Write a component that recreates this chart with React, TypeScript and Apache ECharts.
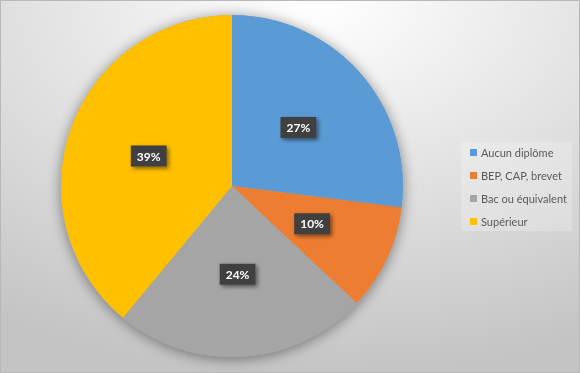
import React, { useEffect, useRef } from "react";
import * as echarts from "echarts";

const categories = ["Aucun diplôme", "BEP, CAP, brevet", "Bac ou équivalent", "Supérieur"];
const values = [27, 10, 24, 39];
const colors = ["#5B9BD5", "#ED7D31", "#A5A5A5", "#FFC000"];

export default function App() {
  const ref = useRef<HTMLDivElement>(null);
  useEffect(() => {
    const chart = echarts.init(ref.current!, undefined, { renderer: "svg" });
    const total = values.reduce((a, b) => a + b, 0);
    chart.setOption({
      animation: false,
      backgroundColor: {
        type: "radial",
        x: 0.55,
        y: 0.0,
        r: 1.0,
        colorStops: [
          { offset: 0, color: "#ffffff" },
          { offset: 0.6, color: "#dcdcdc" },
          { offset: 1, color: "#c4c4c4" },
        ],
      },
      graphic: [
        {
          type: "rect",
          shape: { x: 0.5, y: 0.5, width: 579, height: 372 },
          style: { fill: "none", stroke: "#b8b8b8", lineWidth: 1 },
          z: 100,
        },
      ],
      legend: {
        orient: "vertical",
        left: 461,
        top: 142,
        itemWidth: 7,
        itemHeight: 7,
        itemGap: 12,
        icon: "rect",
        padding: [5, 5, 4, 9],
        backgroundColor: "rgba(255,255,255,0.22)",
        textStyle: { fontFamily: "Lato", fontSize: 11, color: "#595959", padding: [0, 0, 0, -1] },
        data: categories,
      },
      series: [
        {
          type: "pie",
          silent: true,
          radius: 171,
          center: [232, 186],
          label: { show: false },
          labelLine: { show: false },
          itemStyle: { color: "#a0a0a0", shadowBlur: 14, shadowColor: "rgba(0,0,0,0.45)", shadowOffsetY: 2 },
          data: [{ value: 1, name: "__shadow" }],
          z: 1,
        },
        {
          type: "pie",
          radius: 171,
          center: [232, 186],
          startAngle: 90,
          clockwise: true,
          z: 2,
          itemStyle: { borderWidth: 0 },
          label: {
            show: true,
            position: "inside",
            formatter: (p: any) => Math.round((p.value / total) * 100) + "%",
            backgroundColor: "#404040",
            color: "#ffffff",
            fontFamily: "Lato",
            fontWeight: "bold",
            fontSize: 12,
            padding: [5, 6, 4, 6],
            shadowBlur: 4,
            shadowColor: "rgba(0,0,0,0.5)",
            shadowOffsetX: 2,
            shadowOffsetY: 2,
          },
          labelLine: { show: false },
          data: categories.map((c, i) => ({ name: c, value: values[i], itemStyle: { color: colors[i] } })),
        },
      ],
    });
    return () => chart.dispose();
  }, []);
  return <div ref={ref} style={{ position: "fixed", left: 0, top: 0, width: 580, height: 373 }} />;
}
